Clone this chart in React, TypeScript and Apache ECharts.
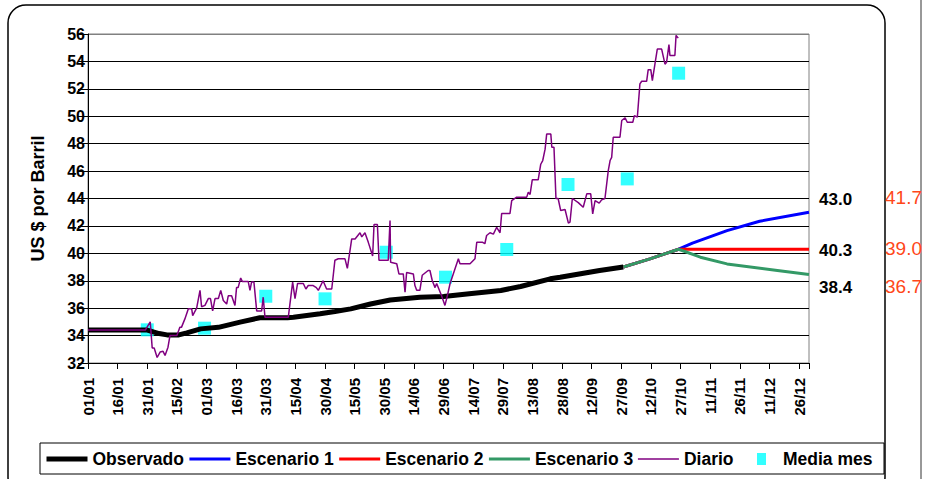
import React, { useEffect, useRef } from 'react';
import * as echarts from 'echarts';

const FONT = "'Liberation Sans', Arial, sans-serif";

// x axis: day index of 2004 (0 = 01/01), ticks every 15 days
const xTickLabels = ['01/01', '16/01', '31/01', '15/02', '01/03', '16/03', '31/03', '15/04', '30/04', '15/05', '30/05', '14/06', '29/06', '14/07', '29/07', '13/08', '28/08', '12/09', '27/09', '12/10', '27/10', '11/11', '26/11', '11/12', '26/12'];

const observado: [number, number][] = [
  [0, 34.4], [30, 34.4], [36, 34.15], [40, 34.05], [46, 34.05], [50, 34.2], [57, 34.49], [66, 34.6],
  [77, 34.98], [87, 35.3], [101, 35.3], [104, 35.34], [117.5, 35.59], [125, 35.76], [133, 35.95],
  [143, 36.3], [153, 36.6], [168, 36.8], [180, 36.85], [193, 37.05], [209, 37.29], [219, 37.58],
  [234, 38.14], [239, 38.26], [259, 38.75], [271, 39.0],
];

const comun: [number, number][] = [[271, 39.0], [284.5, 39.6], [299, 40.3]];
const escenario1: [number, number][] = [[306, 40.74], [323.5, 41.66], [340, 42.34], [365, 43.0]];
const escenario2: [number, number][] = [[365, 40.3]];
const escenario3: [number, number][] = [[310, 39.72], [323.5, 39.23], [349, 38.75], [365, 38.45]];

const diario: [number, number][] = [
  [0, 34.4], [29, 34.4], [31.5, 35.0], [32.5, 33.1], [33.5, 33.1], [35, 32.4], [36.5, 32.8], [38, 32.85],
  [39, 32.55], [40.5, 33.15], [41.5, 34.0], [45, 34.0], [46.5, 34.6], [47.3, 34.6], [49, 35.2],
  [50.8, 35.95], [52.5, 35.95], [53, 35.46], [55, 36.0], [56.7, 37.3], [57.5, 36.1], [59.2, 36.2],
  [60.9, 36.7], [62, 36.7], [63.1, 35.8], [64.3, 36.7], [66, 36.7], [67.2, 37.3], [68.5, 36.56],
  [70.2, 36.3], [71, 36.9], [72.7, 36.9], [74.4, 36.2], [75.2, 37.5], [76, 37.5], [77.3, 38.2],
  [78.1, 37.95], [81.1, 37.95], [82, 37.3], [82.8, 37.9], [84, 37.9], [85.4, 35.8], [87.9, 35.8],
  [88.7, 36.8], [89.6, 35.34], [101.4, 35.34], [103.6, 37.9], [104.8, 36.7], [106.1, 37.8], [109, 37.8],
  [110.3, 37.4], [111.5, 37.65], [114, 37.65], [115.6, 37.5], [116.6, 37.3], [119, 38.0], [120.8, 37.4],
  [123.4, 37.4], [125, 39.5], [126.7, 39.6], [130.1, 39.6], [131.3, 38.9], [133.5, 41.05], [135.2, 41.05],
  [137.7, 41.5], [138.6, 41.2], [140.2, 41.5], [141.9, 40.8], [144.1, 39.8], [144.8, 42.1], [146.5, 42.1],
  [147.3, 39.5], [152, 39.5], [152.9, 42.4], [153.2, 39.35], [156.3, 39.24], [157.4, 38.5], [159.6, 38.5],
  [160.5, 37.16], [161.3, 38.6], [164.7, 38.5], [165.5, 37.65], [166.4, 37.3], [168, 37.3], [169.2, 38.4],
  [172.2, 38.75], [173.1, 38.75], [174.3, 38.0], [175.7, 37.5], [176.5, 37.8], [179, 36.9], [180.7, 36.2],
  [181.9, 36.9], [183.3, 37.8], [187.5, 39.6], [188.3, 39.24], [193.4, 39.24], [195.9, 39.6], [196.8, 40.8],
  [199.8, 40.8], [200.9, 40.7], [201.8, 41.3], [203.5, 41.5], [205.2, 41.4], [206.9, 41.9], [208.6, 41.5],
  [209.4, 42.9], [213.6, 42.9], [214.5, 43.85], [217, 44.1], [222.1, 44.1], [222.9, 44.45], [223.8, 44.3],
  [224.9, 45.36], [227.9, 45.36], [229.2, 46.5], [230.2, 46.77], [231.4, 47.6], [232.2, 48.7], [234.3, 48.7],
  [234.8, 47.74], [235.9, 47.74], [236.9, 44.0], [238, 44.0], [239.3, 43.12], [241.5, 43.2], [243.2, 42.2],
  [244, 42.27], [245.2, 44.0], [248.2, 43.7], [250.7, 43.36], [252.5, 44.34], [254.5, 44.34], [255.5, 42.88],
  [256.7, 43.85], [258.8, 43.66], [260, 43.9], [261.7, 44.0], [263.4, 46.05], [264.3, 46.77], [265.1, 47.0],
  [265.9, 48.47], [269.3, 48.47], [270.2, 49.69], [271.9, 49.88], [273, 49.56], [275.8, 49.56], [276.6, 50.05],
  [278.1, 49.93], [279.4, 52.36], [280.3, 52.55], [282.8, 52.55], [283.6, 53.4], [284.9, 53.4], [285.7, 52.6],
  [287, 53.8], [288.2, 54.9], [290.4, 54.9], [292.1, 53.8], [292.9, 53.94], [294.1, 55.23], [294.6, 54.43],
  [297.1, 54.43], [297.7, 55.9], [298.8, 55.7],
];

const mediaMesDays = [30, 59, 90, 120, 151, 181, 212, 243, 273, 299];
const mediaMesValues = [34.42, 34.54, 36.87, 36.68, 40.08, 38.26, 40.28, 45.02, 45.43, 53.14];

const finalLabels = ['43.0', '40.3', '38.4'];
const finalLabelsAlt = ['41.7', '39.0', '36.7'];

export default function App() {
  const ref = useRef<HTMLDivElement>(null);
  useEffect(() => {
    if (!ref.current) return;
    const chart = echarts.init(ref.current, undefined, { renderer: 'svg' });
    const gridColors = ['#000', '#000', '#000', '#000', '#000', '#000', '#000', '#000', '#000', '#000', '#000', '#000', '#808080'];
    const textBold = { fontFamily: FONT, fontWeight: 'bold' as const, color: '#000' };
    const labelYs = [199, 250, 287];
    const altYs = [197, 248, 286];
    const option: any = {
      animation: false,
      backgroundColor: '#ffffff',
      grid: { left: 88, right: 116, top: 34, bottom: 116, show: true, borderColor: '#808080', borderWidth: 1 },
      xAxis: {
        type: 'value', min: 0, max: 365, interval: 15,
        axisLine: { show: true, onZero: false, lineStyle: { color: '#000', width: 1 } },
        axisTick: { show: true, length: 6, lineStyle: { color: '#000' } },
        axisLabel: {
          ...textBold, rotate: 90, margin: 15, fontSize: 15,
          formatter: (v: number) => (v % 15 === 0 && xTickLabels[v / 15] ? xTickLabels[v / 15] : ''),
        },
        splitLine: { show: false },
      },
      yAxis: {
        type: 'value', min: 32, max: 56, interval: 2,
        name: 'US $ por Barril', nameLocation: 'middle', nameGap: 41,
        nameTextStyle: { ...textBold, fontSize: 18 },
        axisLine: { show: true, lineStyle: { color: '#000', width: 1 } },
        axisTick: { show: true, length: 10, lineStyle: { color: '#000' } },
        axisLabel: { ...textBold, margin: 3, fontSize: 16 },
        splitLine: { show: true, lineStyle: { color: gridColors, width: 1 } },
      },
      legend: [
        {
          data: [
            { name: 'Observado', lineStyle: { width: 5, color: '#000' } },
            { name: 'Escenario 1', lineStyle: { width: 3, color: '#0000FF' } },
            { name: 'Escenario 2', lineStyle: { width: 3, color: '#FF0000' } },
            { name: 'Escenario 3', lineStyle: { width: 3, color: '#339966' } },
            { name: 'Diario', lineStyle: { width: 1.5, color: '#800080' } },
          ],
          left: 44, top: 450, padding: 0, itemWidth: 41, itemHeight: 12, itemGap: 4, selectedMode: false,
          itemStyle: { opacity: 0 },
          textStyle: { ...textBold, fontSize: 17.5 },
        },
        {
          data: ['Media mes'],
          left: 757, top: 450, padding: 0, itemWidth: 9, itemHeight: 12, icon: 'rect', selectedMode: false,
          formatter: '{a|{name}}',
          textStyle: { ...textBold, fontSize: 17.5, rich: { a: { ...textBold, fontSize: 17.5, padding: [0, 0, 0, 12] } } },
        },
      ],
      series: [
        { name: 'Observado', type: 'line', data: observado, symbol: 'none', lineStyle: { color: '#000', width: 5 }, itemStyle: { color: '#000' } },
        { name: 'Escenario 1', type: 'line', data: [...comun, ...escenario1], symbol: 'none', lineStyle: { color: '#0000FF', width: 3 }, itemStyle: { color: '#0000FF' } },
        { name: 'Escenario 2', type: 'line', data: [...comun, ...escenario2], symbol: 'none', lineStyle: { color: '#FF0000', width: 3 }, itemStyle: { color: '#FF0000' } },
        { name: 'Escenario 3', type: 'line', data: [...comun, ...escenario3], symbol: 'none', lineStyle: { color: '#339966', width: 3 }, itemStyle: { color: '#339966' } },
        { name: 'Diario', type: 'line', data: diario, symbol: 'none', lineStyle: { color: '#800080', width: 1.5 }, itemStyle: { color: '#800080' } },
        {
          name: 'Media mes', type: 'scatter', symbol: 'rect', symbolSize: 13,
          data: mediaMesDays.map((d, i) => [d, mediaMesValues[i]]),
          itemStyle: { color: '#00FFFF' },
        },
      ],
      graphic: [
        { type: 'rect', shape: { x: 8, y: 5, width: 877, height: 490, r: 18 }, style: { fill: 'none', stroke: '#000', lineWidth: 1.5 } },
        { type: 'rect', shape: { x: 40, y: 443, width: 844, height: 31 }, style: { fill: 'none', stroke: '#000', lineWidth: 1 } },
        { type: 'line', shape: { x1: 921, y1: 0, x2: 921, y2: 479 }, style: { stroke: '#333', lineWidth: 1 } },
        ...finalLabels.map((t, i) => ({
          type: 'text', x: 819, y: labelYs[i],
          style: { text: t, fill: '#000', font: `bold 17px ${FONT}`, verticalAlign: 'middle', align: 'left' },
        })),
        ...finalLabelsAlt.map((t, i) => ({
          type: 'text', x: 885, y: altYs[i],
          style: { text: t, fill: '#FF4719', font: `19px ${FONT}`, verticalAlign: 'middle', align: 'left' },
        })),
      ],
    };
    chart.setOption(option);
    return () => chart.dispose();
  }, []);
  return <div ref={ref} style={{ position: 'absolute', left: 0, top: 0, width: 925, height: 479 }} />;
}
